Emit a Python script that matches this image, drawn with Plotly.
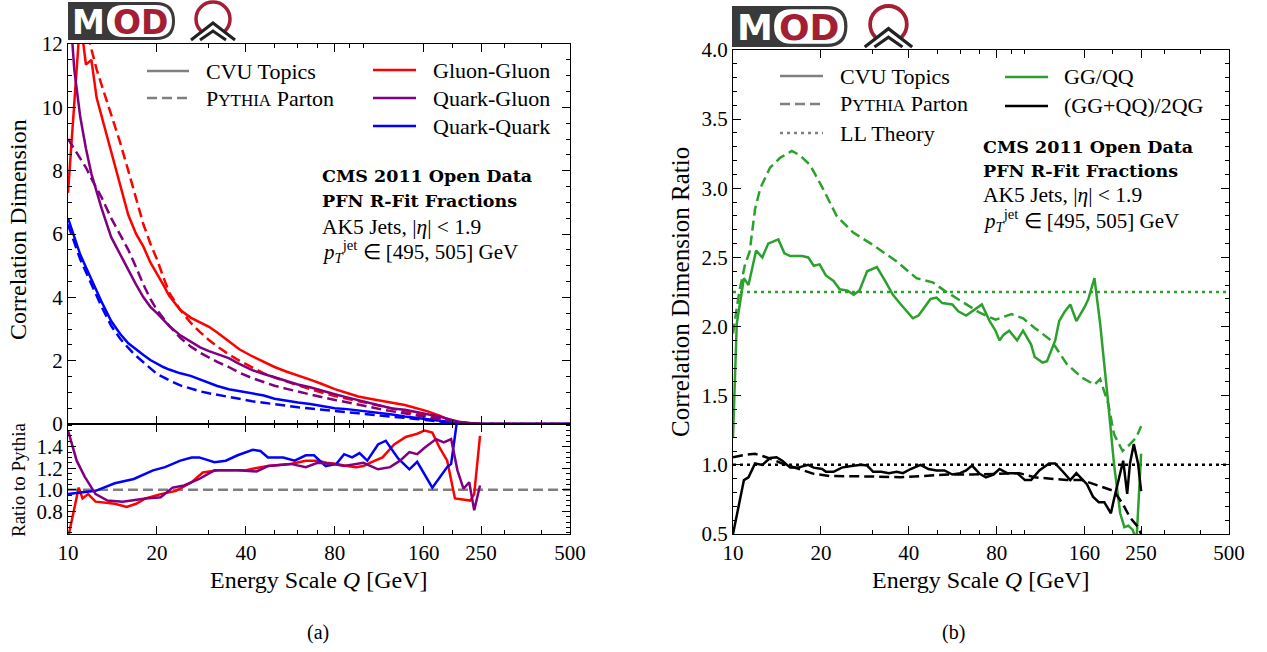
import math
import plotly.graph_objects as go

W, H = 1267, 652
FONT = "Liberation Serif"
BOLD_FONT = "DejaVu Serif"

# ---------------- data ----------------
# (a) correlation dimension vs energy scale Q [GeV]
Q = [10, 10.5, 11, 11.5, 12, 12.5, 13, 14, 15, 16, 17, 18, 19, 20, 21, 22, 24, 26, 28, 30,
     32, 35, 38, 42, 46, 50, 55, 60, 66, 72, 80, 88, 96, 105, 115, 125, 138, 150, 165, 180,
     195, 210, 230, 250, 300, 400, 500]
gg_cvu = [7.3, 10.3, 12.8, 11.35, 11.5, 10.3, 9.7, 8.6, 7.5, 6.6, 6.0, 5.6, 5.1, 4.75, 4.4, 4.05,
          3.6, 3.36, 3.2, 3.07, 2.89, 2.6, 2.36, 2.14, 1.95, 1.8, 1.65, 1.54, 1.4, 1.27, 1.1, 0.98,
          0.87, 0.8, 0.72, 0.67, 0.6, 0.5, 0.4, 0.27, 0.13, 0.06, 0.02, 0, 0, 0, 0]
gg_py = [16.5, 14.8, 13.4, 12.5, 11.8, 11.2, 10.7, 9.8, 8.9, 8.0, 7.1, 6.3, 5.7, 5.2, 4.65, 4.15,
         3.6, 3.2, 2.9, 2.65, 2.45, 2.2, 2.0, 1.78, 1.6, 1.47, 1.33, 1.22, 1.1, 1.0, 0.88, 0.8,
         0.72, 0.64, 0.55, 0.48, 0.4, 0.33, 0.26, 0.19, 0.12, 0.06, 0.02, 0, 0, 0, 0]
qg_cvu = [14.0, 11.2, 9.7, 8.7, 7.9, 7.3, 6.8, 5.9, 5.35, 4.85, 4.4, 4.0, 3.7, 3.5, 3.3, 3.1,
          2.8, 2.6, 2.42, 2.3, 2.2, 2.08, 1.9, 1.7, 1.58, 1.47, 1.36, 1.25, 1.16, 1.05, 0.94, 0.84,
          0.75, 0.67, 0.57, 0.49, 0.45, 0.38, 0.32, 0.24, 0.15, 0.07, 0.02, 0, 0, 0, 0]
qg_py = [9.0, 8.7, 8.4, 8.1, 7.75, 7.45, 7.15, 6.5, 6.0, 5.5, 4.95, 4.4, 3.95, 3.6, 3.35, 3.1,
         2.72, 2.45, 2.25, 2.1, 1.96, 1.8, 1.62, 1.45, 1.32, 1.21, 1.11, 1.02, 0.94, 0.85, 0.76,
         0.69, 0.61, 0.54, 0.46, 0.4, 0.34, 0.28, 0.22, 0.16, 0.1, 0.05, 0.02, 0, 0, 0, 0]
qq_cvu = [6.5, 5.9, 5.35, 4.95, 4.55, 4.2, 3.85, 3.25, 2.85, 2.55, 2.35, 2.18, 2.02, 1.9, 1.8,
          1.72, 1.6, 1.52, 1.4, 1.28, 1.2, 1.1, 1.04, 0.99, 0.9, 0.8, 0.73, 0.68, 0.63, 0.57, 0.5,
          0.47, 0.43, 0.37, 0.34, 0.3, 0.24, 0.2, 0.14, 0.1, 0.06, 0.03, 0.01, 0, 0, 0, 0]
qq_py = [6.3, 5.7, 5.2, 4.8, 4.4, 4.05, 3.7, 3.1, 2.7, 2.4, 2.15, 1.95, 1.75, 1.58, 1.48, 1.38,
         1.22, 1.12, 1.03, 0.97, 0.92, 0.85, 0.79, 0.72, 0.67, 0.62, 0.57, 0.53, 0.49, 0.46, 0.42,
         0.38, 0.34, 0.3, 0.27, 0.23, 0.2, 0.16, 0.12, 0.08, 0.04, 0.01, 0, 0, 0, 0, 0]

# ratio to Pythia
rq_gg = [10, 10.87, 11.2, 11.7, 12.4, 13.2, 14.4, 15.8, 17, 18.3, 20.6, 23.2, 26.2, 28.6, 32.2,
         36, 39.7, 43, 47.5, 52, 56.7, 63.8, 69.9, 75, 81.2, 88, 94.3, 100, 106, 116, 127, 139,
         152, 161, 171, 181, 192, 204, 215, 230, 237, 248]
r_gg = [0.55, 1.02, 0.92, 0.96, 0.89, 0.88, 0.87, 0.84, 0.87, 0.92, 0.96, 0.99, 1.07, 1.16, 1.18,
        1.18, 1.18, 1.2, 1.22, 1.23, 1.24, 1.27, 1.27, 1.25, 1.24, 1.22, 1.21, 1.22, 1.255, 1.3,
        1.42, 1.49, 1.52, 1.55, 1.53, 1.39, 1.27, 0.92, 0.91, 0.9, 0.96, 1.5]
rq_qg = [10, 10.7, 11.4, 12.4, 13.6, 15.3, 18.3, 20.6, 22.6, 24.7, 27.8, 31.3, 37.5, 43.5, 47.5,
         56.7, 63.8, 69.9, 79, 86, 100, 112, 123, 133, 143, 152, 161, 176, 187, 198, 208, 218,
         228, 237, 248]
r_qg = [1.55, 1.27, 1.12, 0.96, 0.9, 0.89, 0.92, 0.93, 1.02, 1.04, 1.1, 1.18, 1.18, 1.17, 1.22,
        1.24, 1.21, 1.25, 1.24, 1.22, 1.25, 1.19, 1.21, 1.27, 1.35, 1.33, 1.39, 1.47, 1.44, 1.47,
        1.18, 1.01, 1.07, 0.81, 1.04]
rq_qq = [10, 12.4, 14.4, 16.7, 19.4, 21.3, 24, 26.2, 27.8, 31.3, 34.2, 37.5, 42.2, 44.8, 47.5,
         53.5, 58.5, 63.8, 68, 74.5, 81, 86, 91.5, 97, 103, 112, 119, 131, 143, 152, 171, 192,
         198, 210]
r_qq = [0.96, 0.99, 1.06, 1.1, 1.18, 1.21, 1.27, 1.3, 1.3, 1.255, 1.27, 1.32, 1.37, 1.36, 1.3,
        1.3, 1.27, 1.32, 1.32, 1.22, 1.24, 1.33, 1.3, 1.34, 1.27, 1.42, 1.455, 1.29, 1.19, 1.26,
        1.02, 1.21, 1.24, 1.75]

# (b) correlation dimension ratios
q_ggqq_cvu = [10, 10.3, 10.9, 11.3, 12.0, 12.6, 13.2, 14.3, 15.0, 15.7, 17.25, 18.1, 18.9, 19.8,
              20.8, 22.1, 23.2, 24.7, 25.9, 27.1, 28.8, 31.1, 33.2, 35.3, 37.6, 41.3, 43.2, 45.3,
              47.5, 49.8, 52.1, 56.4, 59.1, 62.9, 66.9, 71.2, 75.7, 79.3, 81.8, 84.4, 88.3, 94,
              98.5, 105, 108, 115, 119, 127, 131, 137, 143, 150, 160, 165, 173, 181, 193, 202,
              212, 219, 226, 234, 241, 250]
ggqq_cvu = [1.2, 2.02, 2.35, 2.3, 2.55, 2.5, 2.6, 2.63, 2.53, 2.51, 2.51, 2.5, 2.44, 2.45, 2.37,
            2.33, 2.27, 2.26, 2.23, 2.26, 2.4, 2.43, 2.33, 2.23, 2.16, 2.06, 2.08, 2.14, 2.2, 2.21,
            2.17, 2.16, 2.11, 2.08, 2.12, 2.16, 2.04, 1.97, 1.9, 1.94, 1.97, 1.9, 1.97, 1.87, 1.78,
            1.74, 1.75, 1.9, 2.04, 2.11, 2.16, 2.04, 2.14, 2.2, 2.35, 2.02, 1.44, 1.0, 0.65, 0.55,
            0.56, 0.53, 0.45, 1.08]
q_ggqq_py = [10, 10.5, 11, 11.4, 11.9, 12.4, 13.4, 14.5, 15.9, 16.9, 18.35, 20.3, 22.65, 25.8,
             30.2, 32.2, 36.4, 42.5, 48.3, 53, 60, 70, 79.3, 90, 98.5, 108, 123, 139, 157, 173,
             181, 193, 202, 216, 229, 241, 250]
ggqq_py = [1.95, 2.25, 2.45, 2.54, 2.85, 3.0, 3.15, 3.22, 3.27, 3.24, 3.17, 3.0, 2.8, 2.68, 2.59,
           2.55, 2.47, 2.35, 2.32, 2.26, 2.19, 2.1, 2.05, 2.09, 2.06, 1.99, 1.9, 1.73, 1.63, 1.58,
           1.62, 1.44, 1.22, 1.1, 1.15, 1.2, 1.28]
q_mix_cvu = [10, 10.9, 11.3, 11.9, 12.6, 13.4, 14.1, 14.75, 15.7, 16.7, 18.1, 18.9, 20.2, 20.8,
             22.1, 23.6, 25.1, 27.5, 28.8, 30.2, 32.2, 34.2, 36.4, 38.2, 40.6, 43.9, 46.7, 49.8,
             53, 56.4, 60, 62.9, 65.9, 70, 73.5, 78, 81.8, 87, 94, 100, 105, 112, 121, 127, 135,
             143, 150, 163, 171, 179, 187, 197, 202, 209, 217, 224, 229, 236, 244, 250]
mix_cvu = [0.5, 0.89, 0.91, 1.01, 1.0, 1.05, 1.055, 1.03, 0.98, 0.98, 1.0, 0.98, 0.97, 0.95, 0.95,
           0.98, 0.99, 1.0, 0.995, 0.95, 0.95, 0.94, 0.95, 0.94, 0.97, 1.0, 0.97, 0.96, 0.96, 0.93,
           0.94, 0.96, 0.995, 0.935, 0.91, 0.93, 0.97, 0.94, 0.94, 0.89, 0.89, 0.96, 1.01, 1.01,
           0.95, 0.89, 0.94, 0.86, 0.77, 0.73, 0.73, 0.65, 0.755, 0.89, 1.03, 0.79, 1.01, 1.15,
           1.01, 0.81]
q_mix_py = [10, 10.8, 11.9, 13, 14.75, 16.7, 18.9, 21.4, 25.8, 31.2, 37.6, 45.3, 54.6, 65.9, 79.3,
            95.6, 108, 123, 139, 157, 173, 190, 202, 216, 229, 244, 250]
mix_py = [1.055, 1.07, 1.08, 1.055, 1.01, 0.97, 0.935, 0.92, 0.92, 0.915, 0.91, 0.92, 0.93, 0.93,
          0.935, 0.94, 0.91, 0.9, 0.89, 0.89, 0.86, 0.83, 0.81, 0.72, 0.62, 0.55, 0.5]

Q_SPAN = [10, 500]
LL_GGQQ = 2.25
LL_MIX = 1.0
X_TICKS = [10, 20, 40, 80, 160, 250, 500]
X_MINOR = [30, 50, 60, 70, 90, 100, 200, 300, 400]

RED, PURPLE, BLUE = "#ff0000", "#800080", "#0000ff"
GREEN, BLACK, GRAY = "#2ca02c", "#000000", "#808080"
DASH, DOT = "10px,5px", "3px,4px"
LW = 2.5


# pixel -> paper helpers
def px(x):
    return x / W


def py(y):
    return 1 - y / H


fig = go.Figure()


def line(x, y, color, dash="solid", xa="x", ya="y"):
    fig.add_trace(go.Scatter(x=x, y=y, mode="lines", xaxis=xa, yaxis=ya, showlegend=False,
                             line=dict(color=color, width=LW, dash=dash)))


# (a) main
line(Q, gg_cvu, RED)
line(Q, gg_py, RED, DASH)
line(Q, qq_cvu, BLUE)
line(Q, qq_py, BLUE, DASH)
line(Q, qg_cvu, PURPLE)
line(Q, qg_py, PURPLE, DASH)
# (a) ratio
line(Q_SPAN, [1, 1], GRAY, DASH, "x2", "y2")
line(rq_gg, r_gg, RED, xa="x2", ya="y2")
line(rq_qq, r_qq, BLUE, xa="x2", ya="y2")
line(rq_qg, r_qg, PURPLE, xa="x2", ya="y2")
# (b)
line(Q_SPAN, [LL_GGQQ] * 2, GREEN, DOT, "x3", "y3")
line(Q_SPAN, [LL_MIX] * 2, BLACK, DOT, "x3", "y3")
line(q_ggqq_py, ggqq_py, GREEN, DASH, "x3", "y3")
line(q_ggqq_cvu, ggqq_cvu, GREEN, xa="x3", ya="y3")
line(q_mix_py, mix_py, BLACK, DASH, "x3", "y3")
line(q_mix_cvu, mix_cvu, BLACK, xa="x3", ya="y3")


def axis(**kw):
    d = dict(showline=True, linecolor="black", linewidth=1.3, mirror="allticks",
             ticks="inside", ticklen=8, tickwidth=1.2, tickcolor="black",
             showgrid=False, zeroline=False, automargin=False,
             tickfont=dict(family=FONT, size=21, color="black"))
    d.update(kw)
    return d


def xlog(domain, anchor, labels):
    return axis(type="log", range=[1, math.log10(500)], domain=domain, anchor=anchor,
                tickvals=X_TICKS, ticktext=[str(t) for t in X_TICKS], showticklabels=labels,
                minor=dict(ticks="inside", ticklen=4, tickwidth=1, tickcolor="black",
                           tickvals=X_MINOR))


LEFT = [px(68), px(570)]
RIGHT = [px(733), px(1229)]

fig.update_layout(
    width=W, height=H, autosize=False,
    margin=dict(l=0, r=0, t=0, b=0, pad=0, autoexpand=False),
    plot_bgcolor="white", paper_bgcolor="white",
    xaxis=xlog(LEFT, "y", False),
    yaxis=axis(domain=[py(424), py(44)], anchor="x", range=[0, 12], dtick=2,
               minor=dict(ticks="inside", ticklen=4, tickwidth=1, tickcolor="black", dtick=0.5)),
    xaxis2=xlog(LEFT, "y2", True),
    yaxis2=axis(domain=[py(534), py(424)], anchor="x2", range=[0.59, 1.61],
                tickvals=[0.8, 1.0, 1.2, 1.4], tickformat=".1f",
                minor=dict(ticks="inside", ticklen=4, tickwidth=1, tickcolor="black",
                           tick0=0.6, dtick=0.05)),
    xaxis3=xlog(RIGHT, "y3", True),
    yaxis3=axis(domain=[py(534), py(50)], anchor="x3", range=[0.5, 4.0], dtick=0.5,
                tickformat=".1f",
                minor=dict(ticks="inside", ticklen=4, tickwidth=1, tickcolor="black", dtick=0.1)),
)

annotations = []
shapes = []


def text(x, y, s, size=22, xanchor="left", angle=0, family=FONT, color="black"):
    annotations.append(dict(x=px(x), y=py(y), xref="paper", yref="paper", text=s,
                            showarrow=False, xanchor=xanchor, yanchor="middle",
                            textangle=angle, font=dict(family=family, size=size, color=color)))


def sample(x0, x1, y, color, dash="solid"):
    shapes.append(dict(type="line", xref="paper", yref="paper", x0=px(x0), x1=px(x1),
                       y0=py(y), y1=py(y), line=dict(color=color, width=LW, dash=dash)))


PYTHIA = "P<span style='font-size:17px'>YTHIA</span>"

# axis titles
text(18, 230, "Correlation Dimension", 24, "center", -90)
text(18, 480, "Ratio to Pythia", 19, "center", -90)
text(319, 580, "Energy Scale <i>Q</i> [GeV]", 24, "center")
text(680, 292, "Correlation Dimension Ratio", 25, "center", -90)
text(981, 580, "Energy Scale <i>Q</i> [GeV]", 24, "center")
text(318, 632, "(a)", 20, "center")
text(953, 632, "(b)", 20, "center")

# legend (a)
sample(147, 189, 71, GRAY)
sample(147, 189, 98, GRAY, DASH)
text(204, 71, "CVU Topics")
text(204, 98, PYTHIA + " Parton")
for yy, col, name in [(70, RED, "Gluon-Gluon"), (98, PURPLE, "Quark-Gluon"),
                      (126, BLUE, "Quark-Quark")]:
    sample(373, 416, yy, col)
    text(431, yy, name)

# legend (b)
sample(780, 823, 76, GRAY)
sample(780, 823, 104, GRAY, DASH)
sample(780, 823, 133, GRAY, DOT)
text(838, 76, "CVU Topics")
text(838, 104, PYTHIA + " Parton")
text(838, 133, "LL Theory")
sample(1005, 1048, 77, GREEN)
sample(1005, 1048, 106, BLACK)
text(1062, 77, "GG/QQ")
text(1062, 106, "(GG+QQ)/2QG")

# info blocks
for x0, ys in [(320, [176, 201, 227, 251]), (981, [147, 171, 195, 220])]:
    text(x0, ys[0], "<b>CMS 2011 Open Data</b>", 17.5, family=BOLD_FONT)
    text(x0, ys[1], "<b>PFN R-Fit Fractions</b>", 17.5, family=BOLD_FONT)
    text(x0, ys[2], "AK5 Jets, |<i>η</i>| &lt; 1.9", 21.5)
    text(x0, ys[3], "<i>p</i><sub><i>T</i></sub><sup>jet</sup> ∈ [495, 505] GeV", 21)


def P(x, y):
    return f"{px(x):.5f},{py(y):.5f}"


def logo(x0, y0, s):
    h = 38 * s
    w = 107 * s
    r = h / 2
    mred = "#a31f34"
    shapes.append(dict(type="path", xref="paper", yref="paper", fillcolor="#3a3a3a",
                       line=dict(width=0),
                       path=f"M {P(x0, y0)} L {P(x0 + w - r, y0)} Q {P(x0 + w, y0)} {P(x0 + w, y0 + r)} "
                            f"Q {P(x0 + w, y0 + h)} {P(x0 + w - r, y0 + h)} L {P(x0, y0 + h)} Z"))
    a, b = x0 + 39 * s, x0 + w - 3 * s
    t, bt = y0 + 3 * s, y0 + h - 3 * s
    rr = (bt - t) / 2
    shapes.append(dict(type="path", xref="paper", yref="paper", fillcolor="white",
                       line=dict(width=0),
                       path=f"M {P(a + rr, t)} L {P(b - rr, t)} Q {P(b, t)} {P(b, t + rr)} "
                            f"Q {P(b, bt)} {P(b - rr, bt)} L {P(a + rr, bt)} "
                            f"Q {P(a, bt)} {P(a, t + rr)} Q {P(a, t)} {P(a + rr, t)} Z"))
    text(x0 + 21 * s, y0 + 20 * s, "<b>M</b>", round(33 * s), "center", family="DejaVu Sans",
         color="white")
    text(x0 + 72 * s, y0 + 20 * s, "<b>OD</b>", round(33 * s), "center", family="DejaVu Sans",
         color=mred)
    cx, cy, cr = x0 + 145 * s, y0 + 17 * s, 17 * s
    shapes.append(dict(type="circle", xref="paper", yref="paper", x0=px(cx - cr),
                       x1=px(cx + cr), y0=py(cy + cr), y1=py(cy - cr),
                       line=dict(color=mred, width=3.5 * s)))
    bot = y0 + h
    shapes.append(dict(type="path", xref="paper", yref="paper", fillcolor="white",
                       line=dict(width=0),
                       path=f"M {P(cx - 24 * s, bot + 1)} L {P(cx, cy + 2 * s)} "
                            f"L {P(cx + 24 * s, bot + 1)} Z"))
    for dy, dx in [(4 * s, 22 * s), (12 * s, 13 * s)]:
        shapes.append(dict(type="path", xref="paper", yref="paper",
                           line=dict(color="#222222", width=3 * s),
                           path=f"M {P(cx - dx, bot)} L {P(cx, cy + dy)} L {P(cx + dx, bot)}"))


logo(68, 2, 1.0)
logo(732, 6, 41 / 38)

fig.update_layout(annotations=annotations, shapes=shapes)
# drop the default page margin so the figure sits at the window origin
fig.write_html("out.html", config={"displayModeBar": False},
               post_script="document.body.style.margin='0px';"
                           "document.documentElement.style.overflow='hidden';")
